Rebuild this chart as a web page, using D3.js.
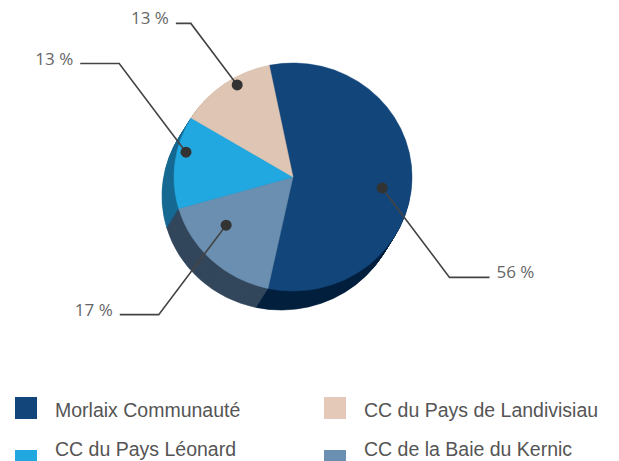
<!DOCTYPE html>
<html>
<head>
<meta charset="utf-8">
<script src="https://cdn.jsdelivr.net/npm/d3@7"></script>
<style>
  body { margin: 0; background: #fff; }
  svg { display: block; }
</style>
</head>
<body>
<div id="viz"></div>
<script>
// data, in pie order (clockwise from the top)
var categories = ['Morlaix Communauté', 'CC de la Baie du Kernic', 'CC du Pays Léonard', 'CC du Pays de Landivisiau'];
var values = [56, 17, 13, 13];
var valueLabels = ['56 %', '17 %', '13 %', '13 %'];
var legendOrder = ['Morlaix Communauté', 'CC du Pays de Landivisiau', 'CC du Pays Léonard', 'CC de la Baie du Kernic'];

var topColors = ['#12457a', '#6a8fb0', '#22a8e0', '#dfc5b3'];
var sideColors = ['#03203e', '#33475c', '#166a93', '#a8917f'];

var width = 619, height = 461;
var cx = 293, cy = 177;
var rx = 119, ry = 114;
var depth = {x: -12, y: 19, steps: 22};
var startAngle = -11.5 * Math.PI / 180;

// where the dot sits in each slice, and the leader lengths
var dotPlace = [{da: 7, k: 0.755}, {da: 10, k: 0.703}, {da: 6, k: 0.925}, {da: 5, k: 0.934}];
var leaderLen = [112, 112, 111, 77];
var tailLen = [40, 39, 39, 15];
var leaderAngle = 53 * Math.PI / 180;

var rows = categories.map((c, i) => ({name: c, value: values[i], label: valueLabels[i]}));

var color = d3.scaleOrdinal(categories, topColors);
var side = d3.scaleOrdinal(categories, sideColors);

var pie = d3.pie().sort(null).value(d => d.value)
  .startAngle(startAngle).endAngle(startAngle + 2 * Math.PI);
var arcs = pie(rows);

var arc = d3.arc().innerRadius(0).outerRadius(ry);

var svg = d3.select('#viz').append('svg')
  .attr('width', width)
  .attr('height', height)
  .style('background', '#fff');

// the side of the pie: sectors stacked from the bottom up
var sides = svg.append('g');
for (var i = depth.steps; i >= 1; i--) {
  var ox = depth.x * i / depth.steps, oy = depth.y * i / depth.steps;
  sides.append('g')
    .attr('transform', 'translate(' + (cx + ox) + ',' + (cy + oy) + ') scale(' + (rx / ry) + ',1)')
    .selectAll('path').data(arcs)
    .enter().append('path')
    .attr('d', arc)
    .attr('fill', d => side(d.data.name))
    .attr('stroke', d => side(d.data.name))
    .attr('stroke-width', 0.6);
}

// top face
svg.append('g')
  .attr('transform', 'translate(' + cx + ',' + cy + ') scale(' + (rx / ry) + ',1)')
  .selectAll('path').data(arcs)
  .enter().append('path')
  .attr('d', arc)
  .attr('fill', d => color(d.data.name))
  .attr('stroke', d => color(d.data.name))
  .attr('stroke-width', 0.5);

// labels with leaders
var labelG = svg.append('g');
arcs.forEach((d, i) => {
  var mid = (d.startAngle + d.endAngle) / 2 + dotPlace[i].da * Math.PI / 180;
  var px = cx + rx * dotPlace[i].k * Math.sin(mid);
  var py = cy - ry * dotPlace[i].k * Math.cos(mid);
  var sx = px >= cx ? 1 : -1;
  var sy = py >= cy ? 1 : -1;
  var ex = px + sx * leaderLen[i] * Math.cos(leaderAngle);
  var ey = py + sy * leaderLen[i] * Math.sin(leaderAngle);
  var tx = ex + sx * tailLen[i];

  labelG.append('path')
    .attr('d', d3.line()([[px, py], [ex, ey], [tx, ey]]))
    .attr('fill', 'none')
    .attr('stroke', '#444')
    .attr('stroke-width', 1.6);

  labelG.append('circle')
    .attr('cx', px).attr('cy', py).attr('r', 5.5)
    .attr('fill', '#333');

  labelG.append('text')
    .attr('x', tx + sx * 7)
    .attr('y', ey + 1)
    .attr('text-anchor', sx > 0 ? 'start' : 'end')
    .attr('font-family', '"Open Sans", sans-serif')
    .attr('font-size', 17)
    .attr('fill', '#666')
    .text(d.data.label);
});

// legend, two columns
var legX = [15, 324], legY = [397, 450], textY = [417, 456];
var legend = svg.append('g')
  .selectAll('g').data(legendOrder)
  .enter().append('g');

legend.append('rect')
  .attr('x', (d, i) => legX[i % 2])
  .attr('y', (d, i) => legY[Math.floor(i / 2)])
  .attr('width', 22)
  .attr('height', 22)
  .attr('fill', d => d === 'CC du Pays de Landivisiau' ? '#e4c9b9' : color(d));

legend.append('text')
  .attr('x', (d, i) => legX[i % 2] + 40)
  .attr('y', (d, i) => textY[Math.floor(i / 2)])
  .attr('font-family', '"Liberation Sans", Arial, sans-serif')
  .attr('font-size', 19.5)
  .attr('fill', '#555')
  .text(d => d);
</script>
</body>
</html>
